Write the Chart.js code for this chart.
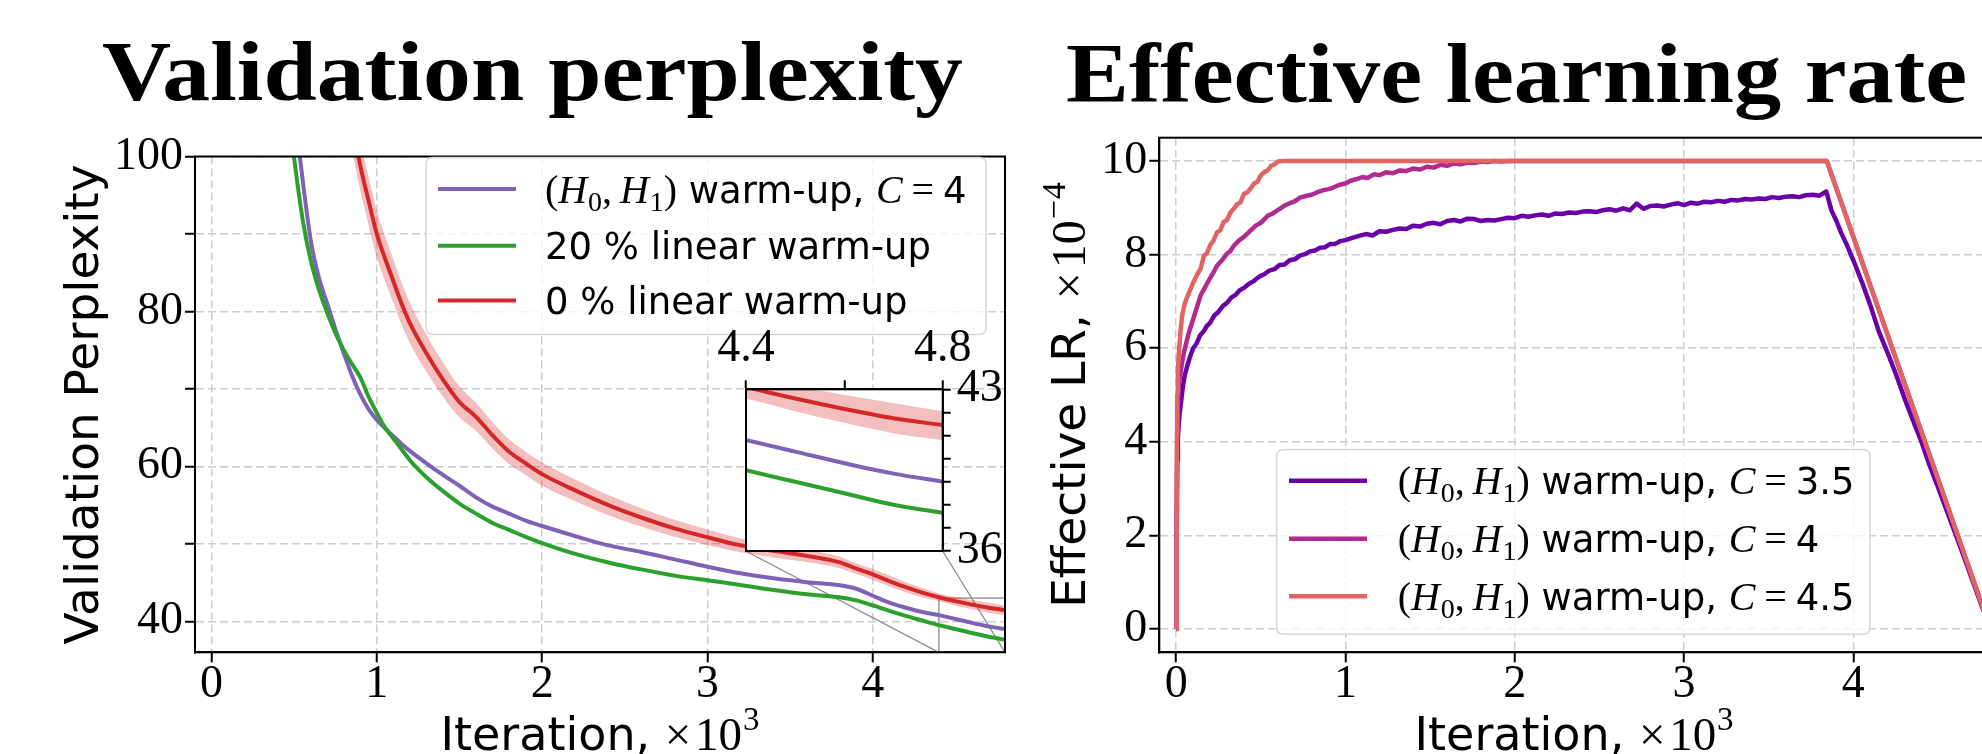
<!DOCTYPE html>
<html><head><meta charset="utf-8">
<script src="https://cdn.jsdelivr.net/npm/chart.js@4.4.1/dist/chart.umd.min.js"></script>
<style>
html,body{margin:0;padding:0;background:#fff;overflow:hidden;width:1982px;height:754px;}
#wrap{position:relative;width:1982px;height:754px;overflow:hidden;background:#fff;}
canvas{position:absolute;}
</style></head><body>
<div id="wrap">
<canvas id="cVal" width="1010" height="754" style="left:0px;top:0px;width:1010px;height:754px"></canvas>
<canvas id="cLR" width="1000" height="754" style="left:1000px;top:0px;width:1000px;height:754px"></canvas>
<canvas id="cInset" width="314" height="261" style="left:705.7px;top:320px;width:314px;height:261px"></canvas>
</div>
<script>
// ---------------- DATA: validation perplexity (iterations in thousands) ----------------
const valIters  = [0.40,0.45,0.50,0.55,0.60,0.65,0.70,0.75,0.80,0.85,0.90,0.95,1.00,1.05,1.10,1.15,1.20,
                   1.30,1.40,1.50,1.60,1.70,1.80,1.90,2.00,
                   2.20,2.40,2.60,2.80,3.00,3.20,3.40,3.60,3.80,
                   3.90,4.00,4.10,4.20,4.30,4.40,4.50,4.60,4.70,4.80];
const valH0H1   = [130,116,106,97.2,89.2,84.3,81.0,77.7,74.6,71.7,69.3,67.4,66.0,64.9,63.9,62.9,62.0,
                   60.4,58.9,57.5,56.0,54.8,53.9,53.0,52.3,
                   51.0,49.8,48.95,48.0,47.05,46.2,45.55,45.05,44.65,
                   44.2,43.3,42.4,41.75,41.2,40.8,40.3,39.8,39.35,39.0];
const val20Lin  = [118,108.5,99.7,92.0,86.6,82.8,79.8,77.2,75.0,73.2,71.5,69.0,66.9,65.0,63.6,62.2,60.8,
                   58.6,56.8,55.2,53.9,52.7,51.8,50.9,50.1,
                   48.7,47.6,46.7,45.9,45.3,44.7,44.05,43.5,43.1,
                   42.7,42.05,41.35,40.7,40.1,39.5,39.0,38.5,38.0,37.65];
const val0Lin   = [null,null,null,null,null,null,null,null,112,104.5,98.8,94.3,90.0,86.8,83.9,81.0,78.5,
                   74.6,71.2,68.3,66.4,64.0,61.9,60.4,59.0,
                   56.9,55.0,53.4,52.0,50.85,49.8,49.1,48.45,47.6,
                   46.8,46.05,45.2,44.4,43.7,43.1,42.6,42.15,41.75,41.45];
const val0LinHi = [null,null,null,null,null,null,null,null,116,108,102,97.4,93.0,89.7,86.7,83.7,81.1,
                   77.0,73.4,70.3,68.2,65.7,63.5,61.9,60.5,
                   58.3,56.3,54.6,53.1,51.85,50.7,49.95,49.25,48.35,
                   47.5,46.75,45.9,45.05,44.3,43.6,43.15,42.75,42.4,42.05];
const val0LinLo = [null,null,null,null,null,null,null,null,108,101,95.6,91.2,87.0,83.9,81.1,78.3,75.9,
                   72.2,69.0,66.3,64.6,62.3,60.3,58.9,57.5,
                   55.5,53.7,52.2,50.9,49.85,48.9,48.25,47.65,46.85,
                   46.1,45.35,44.5,43.75,43.1,42.6,42.05,41.55,41.1,40.8];
const valXTicks   = [0,1,2,3,4];
const valXLabels  = ['0','1','2','3','4'];
const valYTicks   = [40,50,60,70,80,90,100];
const valYLabels  = ['40','','60','','80','','100'];
const valXRange   = [-0.1, 4.8];
const valYRange   = [36, 100];
const insetXRange = [4.4, 4.8];
const insetYRange = [36, 43];
const insetXTicks = [4.4,4.6,4.8];
const insetXLabels= ['4.4','','4.8'];
const insetYTicks = [36,37,38,39,40,41,42,43];
const insetYLabels= ['36','','','','','','','43'];
const valLegend   = ['$(H_0, H_1)$ warm-up, $C=$4','20 % linear warm-up','0 % linear warm-up'];

// ---------------- DATA: effective learning rate (x1e-4) ----------------
const lrIterC35 = [0,0.003,0.006,0.01,0.015,0.02,0.03,0.04,0.05,0.065,0.08,0.1,0.12,0.14,0.16,0.18,0.2,0.225,0.25,0.275,
  0.3,0.325,0.35,0.375,0.4,0.43,0.46,0.49,0.52,0.55,0.58,0.61,0.64,0.67,0.7,0.73,0.76,0.79,0.82,0.85,0.88,0.91,0.94,0.97,1.0,
  1.04,1.08,1.12,1.16,1.20,1.24,1.28,1.32,1.36,1.40,1.44,1.48,1.52,1.56,1.60,1.64,1.68,1.72,1.76,1.80,
  1.84,1.88,1.92,1.96,2.00,2.04,2.08,2.12,2.16,2.20,2.24,2.28,2.32,2.36,2.40,2.44,2.48,2.52,2.56,2.60,
  2.64,2.68,2.72,2.76,2.80,2.84,2.88,2.92,2.96,3.00,3.04,3.08,3.12,3.16,3.20,3.24,3.28,3.32,3.36,3.40,
  3.44,3.48,3.52,3.56,3.60,3.64,3.68,3.72,3.76,3.80,3.84,
  3.87,3.90,3.93,3.96,4.00,4.05,4.10,4.15,4.20,4.25,4.30,4.35,4.40,4.45,4.50,4.55,4.60,4.65,4.70,4.75,4.80];
const lrC35 = [0,2.0,3.6,4.1,4.4,4.6,4.9,5.2,5.42,5.62,5.80,6.00,6.10,6.27,6.35,6.47,6.54,6.70,6.78,6.90,
  6.97,7.08,7.14,7.24,7.29,7.38,7.44,7.53,7.58,7.66,7.69,7.78,7.79,7.88,7.90,7.98,8.01,8.07,8.09,8.15,8.16,8.23,8.23,8.29,8.31,
  8.36,8.40,8.44,8.41,8.50,8.49,8.53,8.56,8.55,8.62,8.60,8.66,8.68,8.65,8.72,8.74,8.71,8.77,8.76,8.72,
  8.74,8.73,8.76,8.79,8.78,8.83,8.81,8.84,8.86,8.83,8.88,8.87,8.90,8.89,8.92,8.93,8.91,8.95,8.97,8.94,
  8.99,8.95,9.09,8.98,9.04,9.05,9.03,9.07,9.10,9.06,9.11,9.09,9.13,9.12,9.15,9.13,9.17,9.16,9.19,9.18,
  9.20,9.19,9.23,9.21,9.24,9.25,9.23,9.27,9.28,9.26,9.35,
  8.95,8.72,8.45,8.22,7.88,7.42,6.92,6.36,5.92,5.46,4.95,4.48,4.02,3.50,3.03,2.54,2.06,1.57,1.07,0.57,0.08];
const lrIterC4 = [0,0.003,0.006,0.01,0.015,0.02,0.026,0.035,0.045,0.055,0.065,0.08,0.1,0.12,0.144,0.17,0.2,0.22,0.242,0.27,
  0.3,0.32,0.34,0.37,0.4,0.44,0.47,0.5,0.54,0.57,0.6,0.64,0.67,0.7,0.73,0.77,0.8,0.83,0.87,0.9,
  0.93,0.97,1.0,1.03,1.07,1.1,1.13,1.17,1.2,1.24,1.28,1.32,1.36,1.4,1.44,1.48,1.52,1.56,1.6,1.64,
  1.68,1.72,1.76,1.8,1.84,1.88,1.92,1.96,2.0,3.843,4.8];
const lrC4 = [0,2.5,4.2,4.9,5.2,5.35,5.49,5.70,5.90,6.05,6.20,6.40,6.62,6.85,7.13,7.30,7.50,7.62,7.77,7.88,
  8.02,8.08,8.19,8.30,8.38,8.52,8.62,8.68,8.83,8.88,8.95,9.05,9.10,9.14,9.22,9.26,9.28,9.33,9.38,9.40,
  9.44,9.50,9.52,9.58,9.62,9.66,9.64,9.72,9.70,9.76,9.74,9.80,9.79,9.84,9.82,9.88,9.86,9.92,9.90,9.95,
  9.93,9.97,9.96,9.99,9.98,10.0,9.99,10.0,10.0,10.0,0.1];
const lrIterC45 = [0,0.003,0.006,0.01,0.016,0.025,0.035,0.05,0.065,0.085,0.1,0.12,0.144,0.164,0.18,0.2,0.22,0.242,0.26,0.28,
  0.3,0.32,0.34,0.36,0.38,0.4,0.42,0.44,0.46,0.48,0.5,0.52,0.54,0.56,0.58,0.6,0.63,3.843,4.8];
const lrC45 = [0,3.0,5.0,5.55,5.92,6.35,6.70,6.95,7.10,7.27,7.40,7.55,7.70,7.98,8.02,8.20,8.30,8.48,8.52,8.70,
  8.74,8.90,8.98,9.08,9.12,9.30,9.33,9.42,9.52,9.56,9.70,9.76,9.80,9.90,9.93,9.99,10.0,10.0,0.1];
const lrXTicks  = [0,1,2,3,4];
const lrXLabels = ['0','1','2','3','4'];
const lrYTicks  = [0,2,4,6,8,10];
const lrYLabels = ['0','2','4','6','8','10'];
const lrXRange  = [-0.1, 4.8];
const lrYRange  = [-0.5, 10.5];
const lrLegend  = ['$(H_0, H_1)$ warm-up, $C=$3.5','$(H_0, H_1)$ warm-up, $C=$4','$(H_0, H_1)$ warm-up, $C=$4.5'];

// ---------------- STYLE ----------------
const SANS = '"DejaVu Sans"', SERIF = '"Liberation Serif"';
const C_PURPLE = '#7f62b8', C_GREEN = '#2ca02c', C_RED = '#d62728', C_BAND = 'rgba(214,39,40,0.3)';
const C_LR = ['#6a00a8', '#b12a90', '#e16462'];
const GRID = '#cdcdcd';
const TICKFONT = {family: SERIF, size: 46, lineHeight: 1};
const INSET = {left: 745.7, top: 389.3, right: 942.7, bottom: 551};

Chart.defaults.animation = false;
Chart.defaults.font.family = SANS;
Chart.defaults.color = '#000';

const mk = (xs, ys) => xs.map((x, i) => ({x: x, y: ys[i]}));

// ---------------- rich text helpers ----------------
function parseRich(str, size, mathSize) {
  const segs = [];
  const ms = mathSize || size;
  let i = 0, inMath = false;
  const sub = Math.round(ms * 0.7);
  while (i < str.length) {
    const c = str[i];
    if (c === '$') { inMath = !inMath; i++; continue; }
    if (!inMath) {
      let j = i; while (j < str.length && str[j] !== '$') j++;
      segs.push({t: str.slice(i, j), font: size + 'px ' + SANS, dy: 0});
      i = j; continue;
    }
    if (str.startsWith('\\times', i)) {
      segs.push({t: '\u00d7', font: ms + 'px ' + SERIF, dy: 0, padL: 0, padR: 0.08 * ms});
      i += 6; continue;
    }
    if (c === '^' || c === '_') {
      let arg; i++;
      if (str[i] === '{') { const k = str.indexOf('}', i); arg = str.slice(i + 1, k); i = k + 1; }
      else { arg = str[i]; i++; }
      for (const ch of arg) {
        segs.push({t: ch === '-' ? '\u2212' : ch,
                   font: (/[A-Za-z]/.test(ch) ? 'italic ' : '') + sub + 'px ' + SERIF,
                   dy: c === '^' ? -0.42 * ms : 0.2 * ms, padL: 0.02 * ms});
      }
      continue;
    }
    if (/[A-Za-z]/.test(c)) segs.push({t: c, font: 'italic ' + ms + 'px ' + SERIF, dy: 0});
    else if (c === '=') segs.push({t: '=', font: ms + 'px ' + SERIF, dy: 0, padL: 0.22 * ms, padR: 0.22 * ms});
    else if (c === ',') segs.push({t: ',', font: ms + 'px ' + SERIF, dy: 0, padR: 0.2 * ms});
    else if (c === ' ') {}
    else segs.push({t: c, font: ms + 'px ' + SERIF, dy: 0});
    i++;
  }
  return segs;
}
function richWidth(ctx, segs) {
  let w = 0;
  for (const s of segs) { ctx.font = s.font; w += (s.padL || 0) + ctx.measureText(s.t).width + (s.padR || 0); }
  return w;
}
function drawRich(ctx, segs, x, y, align) {
  ctx.save();
  ctx.textBaseline = 'alphabetic'; ctx.textAlign = 'left'; ctx.fillStyle = '#000';
  if (align === 'center') x -= richWidth(ctx, segs) / 2;
  for (const s of segs) {
    ctx.font = s.font; x += s.padL || 0;
    ctx.fillText(s.t, x, y + (s.dy || 0));
    x += ctx.measureText(s.t).width + (s.padR || 0);
  }
  ctx.restore();
}
function drawTitle(ctx, text, left, right, baseline) {
  ctx.save();
  ctx.font = 'bold 84px ' + SERIF;
  ctx.textBaseline = 'alphabetic'; ctx.textAlign = 'left'; ctx.fillStyle = '#000';
  const w = ctx.measureText(text).width;
  ctx.translate(left, baseline); ctx.scale((right - left) / w, 1);
  ctx.fillText(text, 0, 0);
  ctx.restore();
}
function drawYTitle(ctx, text, baselineX, centerY) {
  ctx.save(); ctx.translate(baselineX, centerY); ctx.rotate(-Math.PI / 2);
  drawRich(ctx, parseRich(text, 47, 48), 0, 0, 'center');
  ctx.restore();
}
function roundRectPath(ctx, x, y, w, h, r) {
  ctx.beginPath();
  ctx.moveTo(x + r, y); ctx.lineTo(x + w - r, y); ctx.quadraticCurveTo(x + w, y, x + w, y + r);
  ctx.lineTo(x + w, y + h - r); ctx.quadraticCurveTo(x + w, y + h, x + w - r, y + h);
  ctx.lineTo(x + r, y + h); ctx.quadraticCurveTo(x, y + h, x, y + h - r);
  ctx.lineTo(x, y + r); ctx.quadraticCurveTo(x, y, x + r, y); ctx.closePath();
}
function drawLegend(ctx, L, labels, colors, lw) {
  ctx.save();
  roundRectPath(ctx, L.x, L.y, L.w, L.h, 7);
  ctx.fillStyle = 'rgba(255,255,255,0.8)'; ctx.fill();
  ctx.strokeStyle = '#d6d6d6'; ctx.lineWidth = 1.5; ctx.stroke();
  labels.forEach((lab, i) => {
    const yy = L.rows[i];
    ctx.strokeStyle = colors[i]; ctx.lineWidth = lw; ctx.lineCap = 'butt';
    ctx.beginPath(); ctx.moveTo(L.hx0, yy); ctx.lineTo(L.hx1, yy); ctx.stroke();
    drawRich(ctx, parseRich(lab, 37, 40), L.tx, yy + 13.5, 'left');
  });
  ctx.restore();
}
function frame(chart, w) {
  const a = chart.chartArea, ctx = chart.ctx;
  ctx.save(); ctx.strokeStyle = '#000'; ctx.lineWidth = w;
  ctx.strokeRect(a.left, a.top, a.right - a.left, a.bottom - a.top);
  ctx.restore();
}

function axisCfg(opts) {
  return {
    type: 'linear', min: opts.min, max: opts.max, position: opts.position,
    afterBuildTicks: s => { s.ticks = opts.ticks.map(v => ({value: v})); },
    afterFit: s => { if (opts.height !== undefined) s.height = opts.height; if (opts.width !== undefined) s.width = opts.width; },
    ticks: {callback: (v, i) => opts.labels[i], font: TICKFONT, color: '#000', padding: opts.padding,
            maxRotation: 0, minRotation: 0, autoSkip: false},
    grid: {display: true, drawOnChartArea: opts.grid !== false, color: GRID, lineWidth: 1.5,
           tickLength: opts.tickLength || 10, tickColor: '#000', tickWidth: 2},
    border: {display: true, color: '#000', width: 2, dash: [8, 4]},
    title: {display: false}
  };
}
const lineDs = (xs, ys, color, order, lw, mono) => ({
  data: mk(xs, ys), borderColor: color, borderWidth: lw, pointRadius: 0, fill: false,
  cubicInterpolationMode: mono ? 'monotone' : 'default', tension: 0, order: order, spanGaps: false,
  borderJoinStyle: 'round'
});
function valDatasets() {
  return [
    {data: mk(valIters, val0LinHi), borderWidth: 0, borderColor: 'rgba(0,0,0,0)', pointRadius: 0, fill: 1,
     backgroundColor: C_BAND, cubicInterpolationMode: 'monotone', order: 9},
    {data: mk(valIters, val0LinLo), borderWidth: 0, borderColor: 'rgba(0,0,0,0)', pointRadius: 0, fill: false,
     cubicInterpolationMode: 'monotone', order: 9},
    lineDs(valIters, valH0H1, C_PURPLE, 3, 4, true),
    lineDs(valIters, val20Lin, C_GREEN, 2, 4, true),
    lineDs(valIters, val0Lin, C_RED, 1, 4, true)
  ];
}

// ---------------- Validation perplexity chart ----------------
const valPlugin = {
  id: 'valDecor',
  beforeDatasetsDraw(chart) {
    const ctx = chart.ctx, x = chart.scales.x, y = chart.scales.y;
    const rx0 = x.getPixelForValue(insetXRange[0]), rx1 = x.getPixelForValue(insetXRange[1]);
    const ry0 = y.getPixelForValue(insetYRange[1]), ry1 = y.getPixelForValue(insetYRange[0]);
    ctx.save(); ctx.strokeStyle = '#8c8c8c'; ctx.lineWidth = 1.3;
    ctx.strokeRect(rx0, ry0, rx1 - rx0, ry1 - ry0);
    ctx.beginPath();
    ctx.moveTo(INSET.left, INSET.bottom); ctx.lineTo(rx0, ry1);
    ctx.moveTo(INSET.right, INSET.bottom); ctx.lineTo(rx1, ry1);
    ctx.stroke(); ctx.restore();
  },
  afterDatasetsDraw(chart) {
    frame(chart, 2);
    drawLegend(chart.ctx, {x: 426, y: 157.6, w: 560, h: 177, hx0: 438, hx1: 516, tx: 545, rows: [189, 245.8, 300.6]},
               valLegend, [C_PURPLE, C_GREEN, C_RED], 4);
  },
  afterDraw(chart) {
    const ctx = chart.ctx, a = chart.chartArea;
    drawTitle(ctx, 'Validation perplexity', 102, 963, 100);
    drawRich(ctx, parseRich('Iteration, $\\times10^3$', 46, 47), (a.left + a.right) / 2, 750, 'center');
    drawYTitle(ctx, 'Validation Perplexity', 98, (a.top + a.bottom) / 2);
  }
};
new Chart(document.getElementById('cVal'), {
  type: 'line',
  data: {datasets: valDatasets()},
  options: {
    responsive: false, devicePixelRatio: 1, events: [],
    layout: {padding: {left: 0, top: 156.5, right: 5, bottom: 0}},
    plugins: {legend: {display: false}, tooltip: {enabled: false}, title: {display: false}},
    scales: {
      x: axisCfg({min: valXRange[0], max: valXRange[1], position: 'bottom', ticks: valXTicks, labels: valXLabels, height: 754 - 652.3, padding: 0}),
      y: axisCfg({min: valYRange[0], max: valYRange[1], position: 'left', ticks: valYTicks, labels: valYLabels, width: 195, padding: 2})
    }
  },
  plugins: [valPlugin]
});

// ---------------- Inset ----------------
const insetPlugin = {
  id: 'insetDecor',
  beforeDraw(chart) {
    const a = chart.chartArea, ctx = chart.ctx;
    ctx.save(); ctx.fillStyle = '#fff'; ctx.fillRect(a.left, a.top, a.right - a.left, a.bottom - a.top); ctx.restore();
  },
  afterDatasetsDraw(chart) { frame(chart, 2); }
};
new Chart(document.getElementById('cInset'), {
  type: 'line',
  data: {datasets: valDatasets()},
  options: {
    responsive: false, devicePixelRatio: 1, events: [],
    layout: {padding: {left: 40, top: 0, right: 0, bottom: 30}},
    plugins: {legend: {display: false}, tooltip: {enabled: false}},
    scales: {
      x: axisCfg({min: insetXRange[0], max: insetXRange[1], position: 'top', ticks: insetXTicks, labels: insetXLabels, height: 69.3, padding: 8, grid: false, tickLength: 9}),
      y: axisCfg({min: insetYRange[0], max: insetYRange[1], position: 'right', ticks: insetYTicks, labels: insetYLabels, width: 77.3, padding: 6, grid: false, tickLength: 8})
    }
  },
  plugins: [insetPlugin]
});

// ---------------- Effective LR chart ----------------
const lrPlugin = {
  id: 'lrDecor',
  afterDatasetsDraw(chart) {
    frame(chart, 2);
    drawLegend(chart.ctx, {x: 276.7, y: 449.4, w: 593.3, h: 184.9, hx0: 289, hx1: 367, tx: 397.7, rows: [480.8, 538.7, 596.3]},
               lrLegend, C_LR, 4.5);
  },
  afterDraw(chart) {
    const ctx = chart.ctx, a = chart.chartArea;
    drawTitle(ctx, 'Effective learning rate', 66, 967, 101.7);
    drawRich(ctx, parseRich('Iteration, $\\times10^3$', 46, 47), (a.left + a.right) / 2, 750, 'center');
    drawYTitle(ctx, 'Effective LR, $\\times10^{-4}$', 85, (a.top + a.bottom) / 2);
  }
};
new Chart(document.getElementById('cLR'), {
  type: 'line',
  data: {datasets: [
    lineDs(lrIterC35, lrC35, C_LR[0], 2, 4.5, false),
    lineDs(lrIterC4, lrC4, C_LR[1], 1, 4.5, false),
    lineDs(lrIterC45, lrC45, C_LR[2], 0, 4.5, false)
  ]},
  options: {
    responsive: false, devicePixelRatio: 1, events: [],
    layout: {padding: {left: 0, top: 137.7, right: 11.2, bottom: 0}},
    plugins: {legend: {display: false}, tooltip: {enabled: false}, title: {display: false}},
    scales: {
      x: axisCfg({min: lrXRange[0], max: lrXRange[1], position: 'bottom', ticks: lrXTicks, labels: lrXLabels, height: 754 - 652.3, padding: 0}),
      y: axisCfg({min: lrYRange[0], max: lrYRange[1], position: 'left', ticks: lrYTicks, labels: lrYLabels, width: 159.3, padding: 2})
    }
  },
  plugins: [lrPlugin]
});
</script>
</body></html>
